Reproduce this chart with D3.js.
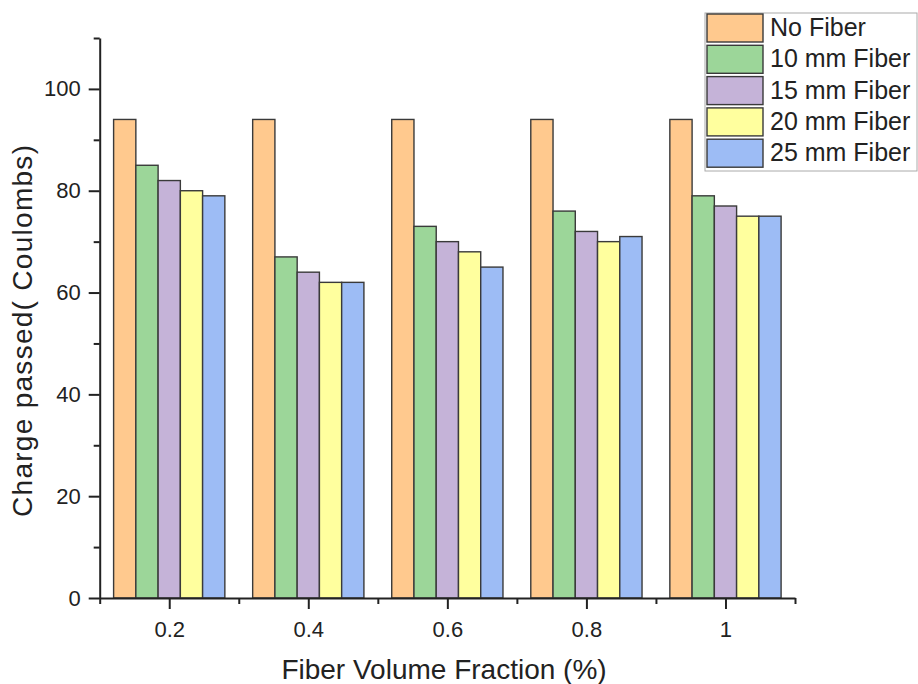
<!DOCTYPE html>
<html>
<head>
<meta charset="utf-8">
<script src="https://cdn.jsdelivr.net/npm/d3@7"></script>
<style>
  body { margin: 0; background: #fff; }
  svg { font-family: Arial, "Liberation Sans", sans-serif; }
</style>
</head>
<body>
<svg id="chart"></svg>
<script>
// data
var fractions = [0.2, 0.4, 0.6, 0.8, 1];
var seriesNames = ["No Fiber", "10 mm Fiber", "15 mm Fiber", "20 mm Fiber", "25 mm Fiber"];
var noFiber = [94, 94, 94, 94, 94];
var fiber10 = [85, 67, 73, 76, 79];
var fiber15 = [82, 64, 70, 72, 77];
var fiber20 = [80, 62, 68, 70, 75];
var fiber25 = [79, 62, 65, 71, 75];
var xTickLabels = ["0.2", "0.4", "0.6", "0.8", "1"];
var yTicks = [0, 20, 40, 60, 80, 100];
var colors = ["#FFC98E", "#9CD699", "#C5B3D8", "#FFFF9E", "#9DBCF5"];

var seriesValues = [noFiber, fiber10, fiber15, fiber20, fiber25];

var width = 918, height = 684;
var svg = d3.select("#chart").attr("width", width).attr("height", height);

// scales
var x = d3.scaleLinear().domain([0.1, 1.1]).range([99.7, 795]);
var y = d3.scaleLinear().domain([0, 110]).range([598, 38]);

var groupW = 0.8 * (x(0.4) - x(0.2));
var inner = d3.scaleBand().domain(seriesNames).range([-groupW / 2, groupW / 2]);

// bars
var rows = [];
fractions.forEach(function(f, i) {
  seriesNames.forEach(function(s, j) {
    rows.push({ f: f, s: s, v: seriesValues[j][i], c: colors[j] });
  });
});

svg.append("g").selectAll("rect")
  .data(rows)
  .join("rect")
    .attr("x", function(d) { return x(d.f) + inner(d.s); })
    .attr("y", function(d) { return y(d.v); })
    .attr("width", inner.bandwidth())
    .attr("height", function(d) { return y(0) - y(d.v); })
    .attr("fill", function(d) { return d.c; })
    .attr("stroke", "#3a3a3a")
    .attr("stroke-width", 1.4);

// minor ticks
svg.append("g")
  .attr("transform", "translate(" + x(0.1) + ",0)")
  .call(d3.axisLeft(y).tickValues(d3.range(10, 111, 20)).tickSize(6).tickFormat(""))
  .call(function(g) { g.select(".domain").remove(); });

svg.append("g")
  .attr("transform", "translate(0," + y(0) + ")")
  .call(d3.axisBottom(x).tickValues([0.1, 0.3, 0.5, 0.7, 0.9, 1.1]).tickSize(6).tickFormat(""))
  .call(function(g) { g.select(".domain").remove(); });

// major axes
var yAxis = svg.append("g")
  .attr("transform", "translate(" + x(0.1) + ",0)")
  .call(d3.axisLeft(y).tickValues(yTicks).tickSize(11).tickPadding(8).tickSizeOuter(0));

var xAxis = svg.append("g")
  .attr("transform", "translate(0," + y(0) + ")")
  .call(d3.axisBottom(x).tickValues(fractions)
    .tickFormat(function(d, i) { return xTickLabels[i]; })
    .tickSize(11).tickPadding(12).tickSizeOuter(0));

svg.selectAll(".tick line, .domain").attr("stroke", "#222").attr("stroke-width", 2);
yAxis.selectAll("text").attr("font-size", 22).attr("fill", "#222");
xAxis.selectAll("text").attr("font-size", 22).attr("fill", "#222");
svg.selectAll("g").attr("font-family", null);

// axis titles
svg.append("text")
  .attr("x", 444).attr("y", 679)
  .attr("text-anchor", "middle")
  .attr("font-size", 28)
  .attr("fill", "#222")
  .text("Fiber Volume Fraction (%)");

svg.append("text")
  .attr("transform", "translate(32,331) rotate(-90)")
  .attr("text-anchor", "middle")
  .attr("font-size", 28)
  .attr("textLength", 372)
  .attr("lengthAdjust", "spacing")
  .attr("fill", "#222")
  .text("Charge passed( Coulombs)");

// legend
var legend = svg.append("g").attr("transform", "translate(705,13)");
legend.append("rect")
  .attr("x", 0).attr("y", 0).attr("width", 212).attr("height", 158)
  .attr("fill", "#fff").attr("stroke", "#aaa").attr("stroke-width", 1);

var item = legend.selectAll("g.item")
  .data(seriesNames)
  .join("g")
    .attr("class", "item")
    .attr("transform", function(d, i) { return "translate(2," + (1 + i * 31.3) + ")"; });

item.append("rect")
  .attr("width", 56).attr("height", 28)
  .attr("fill", function(d, i) { return colors[i]; })
  .attr("stroke", "#3a3a3a").attr("stroke-width", 1.4);

item.append("text")
  .attr("x", 63).attr("y", 22)
  .attr("font-size", 25)
  .attr("fill", "#222")
  .text(function(d) { return d; });
</script>
</body>
</html>
